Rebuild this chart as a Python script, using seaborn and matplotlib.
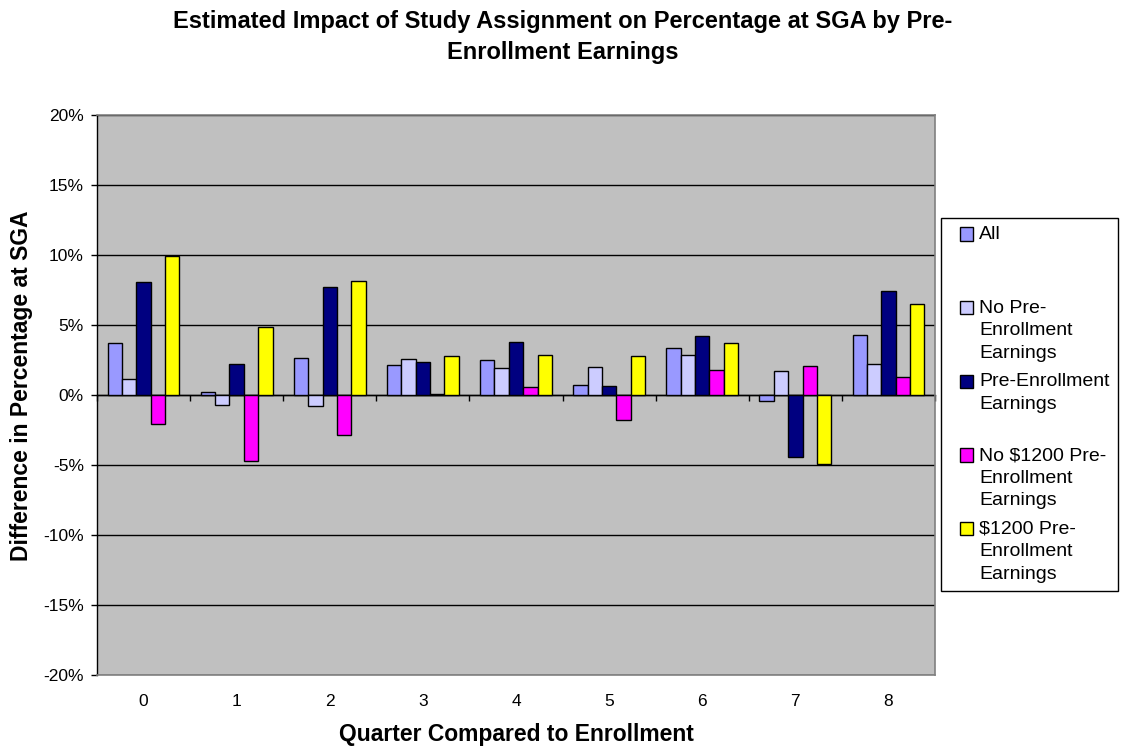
import numpy as np
import pandas as pd
import matplotlib
matplotlib.use("Agg")
import matplotlib.pyplot as plt
import seaborn as sns
from matplotlib.legend_handler import HandlerPatch
from matplotlib.patches import Rectangle
from matplotlib.ticker import FuncFormatter, MultipleLocator

# ---- data -------------------------------------------------------------
quarters = ["0", "1", "2", "3", "4", "5", "6", "7", "8"]
series = [
    "All",
    "No Pre-Enrollment Earnings",
    "Pre-Enrollment Earnings",
    "No \\$1200 Pre-Enrollment Earnings",
    "\\$1200 Pre-Enrollment Earnings",
]
legend_labels = [
    "All\n\n",
    "No Pre-\nEnrollment\nEarnings",
    "Pre-Enrollment\nEarnings\n",
    "No \\$1200 Pre-\nEnrollment\nEarnings",
    "\\$1200 Pre-\nEnrollment\nEarnings",
]
colors = ["#9999FF", "#CCCCFF", "#000080", "#FF00FF", "#FFFF00"]

# percentage-point differences by quarter
all_vals = [3.74, 0.19, 2.67, 2.17, 2.52, 0.71, 3.36, -0.43, 4.31]
no_pre_vals = [1.12, -0.69, -0.81, 2.57, 1.93, 1.98, 2.83, 1.69, 2.24]
pre_vals = [8.05, 2.24, 7.71, 2.33, 3.79, 0.62, 4.24, -4.43, 7.43]
no_1200_vals = [-2.05, -4.69, -2.83, 0.10, 0.57, -1.76, 1.76, 2.07, 1.29]
with_1200_vals = [9.95, 4.88, 8.12, 2.76, 2.83, 2.76, 3.74, -4.93, 6.48]

title = ("Estimated Impact of Study Assignment on Percentage at SGA by Pre-\n"
         "Enrollment Earnings")
xlabel = "Quarter Compared to Enrollment"
ylabel = "Difference in Percentage at SGA"

df = pd.DataFrame({
    "Quarter": quarters * len(series),
    "Series": np.repeat(series, len(quarters)),
    "Value": np.concatenate([all_vals, no_pre_vals, pre_vals,
                             no_1200_vals, with_1200_vals]),
})

# ---- style ------------------------------------------------------------
sns.set_theme(style="white")
plt.rcParams["font.family"] = ["Liberation Sans", "DejaVu Sans"]

fig = plt.figure(figsize=(11.25, 7.5), dpi=100)
W, H = 1125, 750
ax = fig.add_axes([97 / W, 75 / H, 838 / W, 560 / H])

sns.barplot(data=df, x="Quarter", y="Value", hue="Series",
            order=quarters, hue_order=series, palette=colors,
            saturation=1, width=0.77, errorbar=None,
            edgecolor="black", linewidth=1.0, ax=ax, legend=True)

ax.set_facecolor("#C0C0C0")
ax.set_ylim(-20, 20)
ax.set_xlim(-0.5, len(quarters) - 0.5)
ax.yaxis.set_major_locator(MultipleLocator(5))
ax.yaxis.set_major_formatter(FuncFormatter(lambda v, _: f"{v:.0f}%"))
ax.grid(axis="y", color="black", linewidth=1.0)
ax.grid(axis="x", visible=False)
ax.set_axisbelow(True)

for side in ("top", "right", "bottom"):
    ax.spines[side].set_color("#808080")
    ax.spines[side].set_linewidth(1.2)
ax.spines["left"].set_color("black")
ax.spines["left"].set_linewidth(1.0)

ax.tick_params(axis="y", direction="out", length=4.5, width=1, color="black",
               pad=5, labelsize=12.5, labelcolor="black", left=True)
ax.tick_params(axis="x", length=0, pad=14, labelsize=12.5, labelcolor="black")

# category axis crossing at zero, with ticks between quarters
zero_axis = ax.secondary_xaxis(0, transform=ax.transData)
zero_axis.set_xticks(np.arange(-0.5, len(quarters), 1.0))
zero_axis.tick_params(direction="out", length=4.5, width=1, color="black",
                      labelbottom=False)
zero_axis.spines["bottom"].set_color("black")
zero_axis.spines["bottom"].set_linewidth(1.0)

ax.set_xlabel(xlabel, fontsize=16.5, fontweight="bold", color="black")
ax.xaxis.set_label_coords(0.5, -0.0857)
ax.xaxis.label.set_verticalalignment("top")
ax.set_ylabel(ylabel, fontsize=16.5, fontweight="bold", color="black")
ax.yaxis.set_label_coords(-0.0764, 0.516)

fig.suptitle(title, x=0.5, y=1 - 10 / H, va="top", fontsize=17,
             fontweight="bold", linespacing=1.42, color="black")

# ---- legend -------------------------------------------------------------
old_leg = ax.get_legend()
handles = list(old_leg.legend_handles)
old_leg.remove()
for h in handles:
    h.set_edgecolor("black")
    h.set_linewidth(1.0)

LEG_FS = 14
LINE_STEP_PT = 16.6


def square_on_first_line(legend, orig_handle, xdescent, ydescent,
                         width, height, fontsize):
    side = height
    return Rectangle((width - side - xdescent, -ydescent + LINE_STEP_PT),
                     side, side)


handler = HandlerPatch(patch_func=square_on_first_line)
leg = fig.legend(handles, legend_labels, loc="upper left",
                 bbox_to_anchor=(941 / W, 1 - 218 / H),
                 bbox_transform=fig.transFigure, borderaxespad=0,
                 frameon=True, fancybox=False, framealpha=1,
                 edgecolor="black", facecolor="white", fontsize=LEG_FS,
                 borderpad=0.42, handlelength=1.24, handleheight=0.68,
                 handletextpad=0.3, labelspacing=0.59,
                 handler_map={h: handler for h in handles})
leg.get_frame().set_linewidth(1.0)
for t in leg.get_texts():
    t.set_linespacing(1.43)
    t.set_color("black")

fig.savefig("out.png", dpi=100, facecolor="white")
